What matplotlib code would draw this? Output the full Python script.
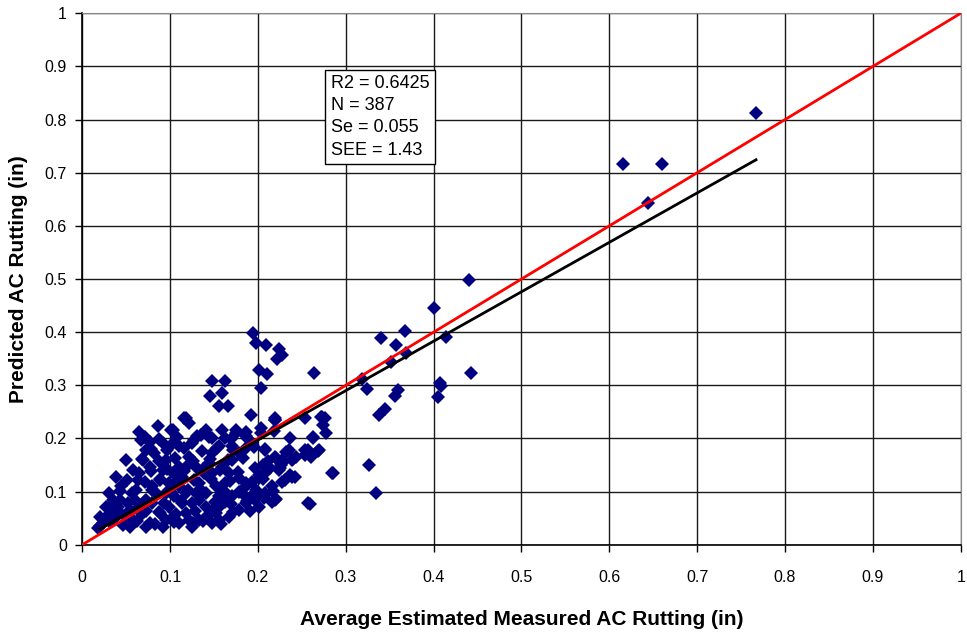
import numpy as np
import matplotlib.pyplot as plt

plt.rcParams['font.family'] = ['Liberation Sans', 'DejaVu Sans']

# measured vs predicted rutting (in)
measured = [
    0.767, 0.616, 0.660, 0.644, 0.440, 0.401, 0.414, 0.442, 0.407, 0.408, 0.405,
    0.340, 0.367, 0.357, 0.369, 0.352, 0.318, 0.324, 0.359, 0.356,
    0.338, 0.345, 0.327, 0.335, 0.286,
    0.194, 0.198, 0.209, 0.224, 0.227, 0.222, 0.201, 0.210, 0.264, 0.204,
    0.148, 0.163, 0.145, 0.159, 0.156, 0.166, 0.192, 0.219, 0.272, 0.118,
    0.254, 0.273, 0.274, 0.278, 0.204, 0.218, 0.236, 0.263, 0.208, 0.232,
    0.257, 0.268, 0.254, 0.243, 0.240, 0.221, 0.227, 0.226, 0.206, 0.214,
    0.225, 0.237, 0.239, 0.201, 0.208, 0.216, 0.221, 0.259, 0.192,
    0.086, 0.116, 0.122, 0.101, 0.065, 0.071, 0.077, 0.103, 0.135, 0.175,
    0.186, 0.220,
    0.018, 0.024, 0.027, 0.033, 0.039, 0.041, 0.043, 0.046, 0.050, 0.054,
    0.058, 0.060, 0.061, 0.063, 0.065, 0.050, 0.069, 0.039, 0.044, 0.031,
    0.073, 0.077, 0.080, 0.084, 0.088, 0.092, 0.095, 0.077, 0.082, 0.073,
    0.067, 0.095, 0.099, 0.105, 0.110, 0.114, 0.118, 0.122, 0.110, 0.125,
    0.131, 0.103, 0.092, 0.110, 0.118, 0.125, 0.129, 0.133, 0.139, 0.144,
    0.148, 0.156, 0.163, 0.148, 0.141, 0.133, 0.141, 0.148, 0.156, 0.163,
    0.171, 0.178, 0.186, 0.193, 0.201, 0.178, 0.167, 0.159, 0.171, 0.178,
    0.186, 0.171, 0.193, 0.186, 0.175, 0.159,
    0.178, 0.186, 0.197, 0.208, 0.220, 0.216, 0.231, 0.242, 0.257, 0.208,
    0.224, 0.239, 0.235, 0.254, 0.261, 0.269, 0.276, 0.263, 0.284, 0.220,
    0.203, 0.208, 0.220, 0.227, 0.167, 0.156, 0.148, 0.201,
    0.035, 0.027, 0.020, 0.020, 0.080, 0.095, 0.073, 0.065, 0.088, 0.103,
    0.122, 0.092, 0.073, 0.054, 0.125, 0.141, 0.152, 0.163, 0.148, 0.129,
    0.110, 0.103, 0.099, 0.118, 0.114, 0.141, 0.156, 0.193,
    # dense core of the cluster
    0.032, 0.062, 0.083, 0.104, 0.126, 0.137, 0.158,
    0.042, 0.068, 0.087, 0.107, 0.128, 0.152, 0.172, 0.191,
    0.036, 0.052, 0.071, 0.093, 0.112, 0.133, 0.151, 0.169, 0.188, 0.207,
    0.043, 0.057, 0.079, 0.101, 0.121, 0.138, 0.161, 0.182, 0.198, 0.217,
    0.051, 0.071, 0.089, 0.107, 0.127, 0.147, 0.168, 0.187, 0.206, 0.228,
    0.058, 0.078, 0.097, 0.116, 0.137, 0.157, 0.177, 0.197,
    0.068, 0.087, 0.106, 0.126, 0.146, 0.166, 0.183, 0.212,
    0.078, 0.097, 0.116, 0.136, 0.153, 0.172, 0.196,
    0.087, 0.108, 0.127, 0.144, 0.169, 0.188,
]
predicted = [
    0.813, 0.716, 0.716, 0.643, 0.498, 0.445, 0.391, 0.323, 0.304, 0.298, 0.278,
    0.389, 0.402, 0.376, 0.360, 0.344, 0.312, 0.293, 0.291, 0.280,
    0.245, 0.255, 0.150, 0.098, 0.135,
    0.399, 0.380, 0.376, 0.369, 0.357, 0.350, 0.329, 0.321, 0.323, 0.295,
    0.308, 0.308, 0.280, 0.285, 0.261, 0.261, 0.244, 0.239, 0.241, 0.239,
    0.239, 0.240, 0.226, 0.210, 0.210, 0.214, 0.200, 0.203, 0.181, 0.175,
    0.179, 0.177, 0.169, 0.166, 0.161, 0.163, 0.160, 0.150, 0.150, 0.144,
    0.144, 0.131, 0.127, 0.126, 0.094, 0.081, 0.086, 0.077, 0.090,
    0.224, 0.239, 0.229, 0.216, 0.212, 0.203, 0.194, 0.216, 0.207, 0.216,
    0.212, 0.235,
    0.031, 0.041, 0.053, 0.063, 0.053, 0.072, 0.085, 0.038, 0.053, 0.066,
    0.047, 0.085, 0.103, 0.122, 0.135, 0.160, 0.160, 0.128, 0.110, 0.098,
    0.063, 0.041, 0.078, 0.097, 0.122, 0.141, 0.160, 0.147, 0.172, 0.179,
    0.197, 0.047, 0.072, 0.091, 0.110, 0.128, 0.147, 0.166, 0.185, 0.191,
    0.204, 0.191, 0.191, 0.041, 0.059, 0.078, 0.097, 0.116, 0.135, 0.153,
    0.172, 0.185, 0.200, 0.200, 0.216, 0.047, 0.053, 0.063, 0.072, 0.081,
    0.091, 0.100, 0.110, 0.119, 0.132, 0.126, 0.135, 0.147, 0.160, 0.172,
    0.182, 0.185, 0.191, 0.204, 0.210, 0.216,
    0.066, 0.078, 0.085, 0.097, 0.085, 0.110, 0.122, 0.128, 0.078, 0.135,
    0.141, 0.160, 0.179, 0.179, 0.166, 0.179, 0.238, 0.201, 0.135, 0.235,
    0.220, 0.179, 0.166, 0.153, 0.053, 0.047, 0.041, 0.072,
    0.085, 0.072, 0.053, 0.035, 0.110, 0.097, 0.085, 0.072, 0.059, 0.053,
    0.047, 0.034, 0.034, 0.034, 0.034, 0.097, 0.110, 0.116, 0.135, 0.147,
    0.147, 0.135, 0.116, 0.097, 0.078, 0.072, 0.091, 0.091,
    0.042, 0.044, 0.039, 0.043, 0.041, 0.045, 0.040,
    0.061, 0.058, 0.062, 0.057, 0.063, 0.059, 0.061, 0.064,
    0.081, 0.078, 0.083, 0.079, 0.082, 0.084, 0.080, 0.077, 0.082, 0.088,
    0.101, 0.098, 0.103, 0.099, 0.104, 0.100, 0.102, 0.097, 0.104, 0.101,
    0.121, 0.118, 0.123, 0.119, 0.122, 0.124, 0.120, 0.117, 0.123, 0.119,
    0.141, 0.138, 0.143, 0.139, 0.142, 0.140, 0.137, 0.144,
    0.161, 0.158, 0.163, 0.157, 0.162, 0.159, 0.164, 0.158,
    0.181, 0.178, 0.183, 0.177, 0.182, 0.179, 0.184,
    0.199, 0.203, 0.198, 0.202, 0.199, 0.201,
]

# regression of predicted on measured
fit_slope = 0.93
fit_intercept = 0.011
fit_range = [0.02, 0.767]

stats_text = "R2 = 0.6425\nN = 387\nSe = 0.055\nSEE = 1.43"

fig, ax = plt.subplots(figsize=(9.67, 6.32), dpi=100)
fig.subplots_adjust(left=0.085, right=0.9935, bottom=0.138, top=0.979)

ax.plot(measured, predicted, linestyle='none', marker='D', markersize=7.3,
        color='#000080', markeredgewidth=0, zorder=3)

ax.plot([0, 1], [0, 1], color='#ff0000', linewidth=2, zorder=4)
fx = np.array(fit_range)
ax.plot(fx, fit_intercept + fit_slope * fx, color='black', linewidth=2, zorder=5)

ax.set_xlim(0, 1)
ax.set_ylim(0, 1)
ticks = np.arange(0, 1.01, 0.1)
labels = ['0', '0.1', '0.2', '0.3', '0.4', '0.5', '0.6', '0.7', '0.8', '0.9', '1']
ax.set_xticks(ticks)
ax.set_xticklabels(labels)
ax.set_yticks(ticks)
ax.set_yticklabels(labels)
ax.tick_params(direction='out', length=5, width=1, labelsize=11.5)
ax.tick_params(axis='x', pad=13)
ax.tick_params(axis='y', pad=6)
ax.grid(True, color='#1a1a1a', linewidth=1)
ax.set_axisbelow(True)
for side in ['top', 'right']:
    ax.spines[side].set_color('#888888')
for side in ['left', 'bottom']:
    ax.spines[side].set_linewidth(1.2)

ax.set_xlabel('Average Estimated Measured AC Rutting (in)', fontsize=15,
              fontweight='bold', labelpad=18)
ax.set_ylabel('Predicted AC Rutting (in)', fontsize=15, fontweight='bold',
              labelpad=12)

ax.text(0.283, 0.884, stats_text, fontsize=13, va='top', ha='left',
        linespacing=1.4, zorder=6,
        bbox=dict(boxstyle='square,pad=0.3', facecolor='white',
                  edgecolor='black', linewidth=1))

fig.savefig('out.png', dpi=100)
